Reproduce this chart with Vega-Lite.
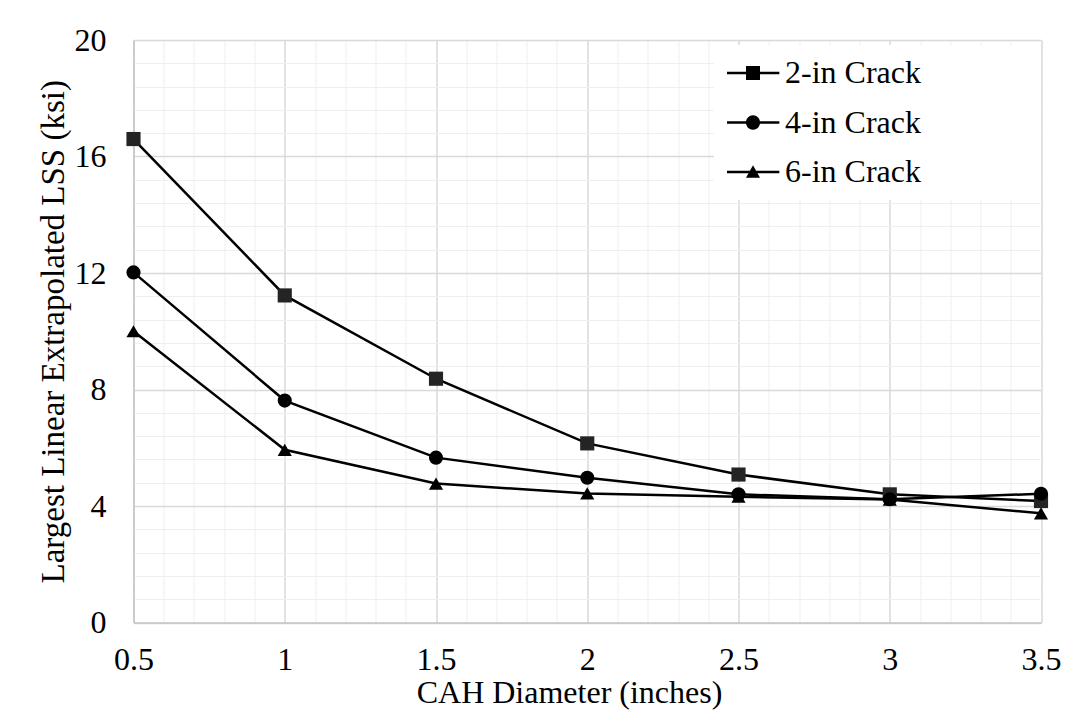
{
  "$schema": "https://vega.github.io/schema/vega-lite/v6.json",
  "width": 907.5,
  "height": 582.5,
  "autosize": {"type": "none"},
  "padding": {"left": 133.5, "top": 40, "right": 26, "bottom": 99.5},
  "background": "white",
  "config": {"view": {"stroke": null}, "font": "Liberation Serif"},
  "data": {
    "values": [
      {"series": "2-in Crack", "diameter": 0.5, "lss": 16.6},
      {"series": "2-in Crack", "diameter": 1.0, "lss": 11.23},
      {"series": "2-in Crack", "diameter": 1.5, "lss": 8.37},
      {"series": "2-in Crack", "diameter": 2.0, "lss": 6.15},
      {"series": "2-in Crack", "diameter": 2.5, "lss": 5.08},
      {"series": "2-in Crack", "diameter": 3.0, "lss": 4.4},
      {"series": "2-in Crack", "diameter": 3.5, "lss": 4.17},
      {"series": "4-in Crack", "diameter": 0.5, "lss": 12.02},
      {"series": "4-in Crack", "diameter": 1.0, "lss": 7.62},
      {"series": "4-in Crack", "diameter": 1.5, "lss": 5.66},
      {"series": "4-in Crack", "diameter": 2.0, "lss": 4.97},
      {"series": "4-in Crack", "diameter": 2.5, "lss": 4.4},
      {"series": "4-in Crack", "diameter": 3.0, "lss": 4.23},
      {"series": "4-in Crack", "diameter": 3.5, "lss": 4.42},
      {"series": "6-in Crack", "diameter": 0.5, "lss": 10.0},
      {"series": "6-in Crack", "diameter": 1.0, "lss": 5.93},
      {"series": "6-in Crack", "diameter": 1.5, "lss": 4.77},
      {"series": "6-in Crack", "diameter": 2.0, "lss": 4.43},
      {"series": "6-in Crack", "diameter": 2.5, "lss": 4.32},
      {"series": "6-in Crack", "diameter": 3.0, "lss": 4.22},
      {"series": "6-in Crack", "diameter": 3.5, "lss": 3.75}
    ]
  },
  "encoding": {
    "x": {
      "field": "diameter",
      "type": "quantitative",
      "scale": {"domain": [0.5, 3.5], "nice": false, "zero": false},
      "axis": {
        "values": [0.5,0.6,0.7,0.8,0.9,1,1.1,1.2,1.3,1.4,1.5,1.6,1.7,1.8,1.9,2,2.1,2.2,2.3,2.4,2.5,2.6,2.7,2.8,2.9,3,3.1,3.2,3.3,3.4,3.5],
        "labelExpr": "abs(datum.value*2 - round(datum.value*2)) < 0.001 ? format(datum.value, '~g') : ''",
        "grid": true,
        "gridColor": {"condition": {"test": "abs(datum.value*2 - round(datum.value*2)) < 0.001", "value": "#d9d9d9"}, "value": "#efefef"},
        "gridWidth": {"condition": {"test": "abs(datum.value*2 - round(datum.value*2)) < 0.001", "value": 1.5}, "value": 1},
        "domain": true,
        "domainColor": "#c4c4c4",
        "domainWidth": 1.5,
        "ticks": false,
        "tickSize": 0,
        "labelFont": "Liberation Serif",
        "labelFontSize": 32,
        "labelColor": "black",
        "labelPadding": 22,
        "labelOverlap": false,
        "labelFlush": false,
        "labelBound": false,
        "title": "CAH Diameter (inches)",
        "titleFont": "Liberation Serif",
        "titleFontSize": 32,
        "titleFontWeight": "normal",
        "titleColor": "black",
        "titlePadding": 2,
        "titleX": 435.5
      }
    },
    "y": {
      "field": "lss",
      "type": "quantitative",
      "scale": {"domain": [0, 20], "nice": false, "zero": true},
      "axis": {
        "values": [0,0.8,1.6,2.4,3.2,4,4.8,5.6,6.4,7.2,8,8.8,9.6,10.4,11.2,12,12.8,13.6,14.4,15.2,16,16.8,17.6,18.4,19.2,20],
        "labelExpr": "abs(datum.value/4 - round(datum.value/4)) < 0.001 ? format(datum.value, '~g') : ''",
        "grid": true,
        "gridColor": {"condition": {"test": "abs(datum.value/4 - round(datum.value/4)) < 0.001", "value": "#d9d9d9"}, "value": "#efefef"},
        "gridWidth": {"condition": {"test": "abs(datum.value/4 - round(datum.value/4)) < 0.001", "value": 1.5}, "value": 1},
        "domain": true,
        "domainColor": "#c4c4c4",
        "domainWidth": 1.5,
        "ticks": false,
        "tickSize": 0,
        "labelFont": "Liberation Serif",
        "labelFontSize": 32,
        "labelColor": "black",
        "labelPadding": 27.5,
        "labelOverlap": false,
        "labelFlush": false,
        "labelBound": false,
        "title": "Largest Linear Extrapolated LSS (ksi)",
        "titleFont": "Liberation Serif",
        "titleFontSize": 33,
        "titleFontWeight": "normal",
        "titleColor": "black",
        "titlePadding": 4
      }
    }
  },
  "layer": [
    {
      "mark": {"type": "line", "color": "black", "strokeWidth": 2.5},
      "encoding": {"detail": {"field": "series", "type": "nominal"}}
    },
    {
      "mark": {"type": "point", "filled": true, "size": 200, "opacity": 1},
      "encoding": {
        "shape": {
          "field": "series",
          "type": "nominal",
          "scale": {"domain": ["2-in Crack", "4-in Crack", "6-in Crack"], "range": ["square", "circle", "triangle-up"]},
          "legend": null
        },
        "color": {
          "field": "series",
          "type": "nominal",
          "scale": {"domain": ["2-in Crack", "4-in Crack", "6-in Crack"], "range": ["#242424", "#000000", "#000000"]},
          "legend": null
        }
      }
    },
    {
      "mark": {"type": "point", "filled": true, "size": 1, "opacity": 0, "color": "black"},
      "encoding": {
        "shape": {
          "field": "series",
          "type": "nominal",
          "scale": {
            "domain": ["2-in Crack", "4-in Crack", "6-in Crack"],
            "range": [
              "M-1,-0.083H2.49V0.083H-1ZM0.267,-0.467H1.2V0.467H0.267ZM19.1,0",
              "M-1,-0.083H2.49V0.083H-1ZM0.267,0A0.467,0.467,0,1,1,1.2,0A0.467,0.467,0,1,1,0.267,0ZM19.1,0",
              "M-1,-0.083H2.49V0.083H-1ZM0.733,-0.45L1.2,0.38L0.267,0.38ZM19.1,0"
            ]
          },
          "legend": {
            "orient": "none",
            "legendX": 580.5,
            "legendY": 5,
            "title": null,
            "fillColor": "white",
            "padding": 12,
            "labelFont": "Liberation Serif",
            "labelFontSize": 32,
            "labelColor": "black",
            "labelOffset": 27,
            "labelLimit": 600,
            "rowPadding": 17.5,
            "symbolSize": 900,
            "symbolOpacity": 1,
            "symbolFillColor": "black",
            "symbolStrokeWidth": 0
          }
        }
      }
    }
  ],
  "resolve": {"scale": {"shape": "independent"}, "legend": {"shape": "independent"}}
}
